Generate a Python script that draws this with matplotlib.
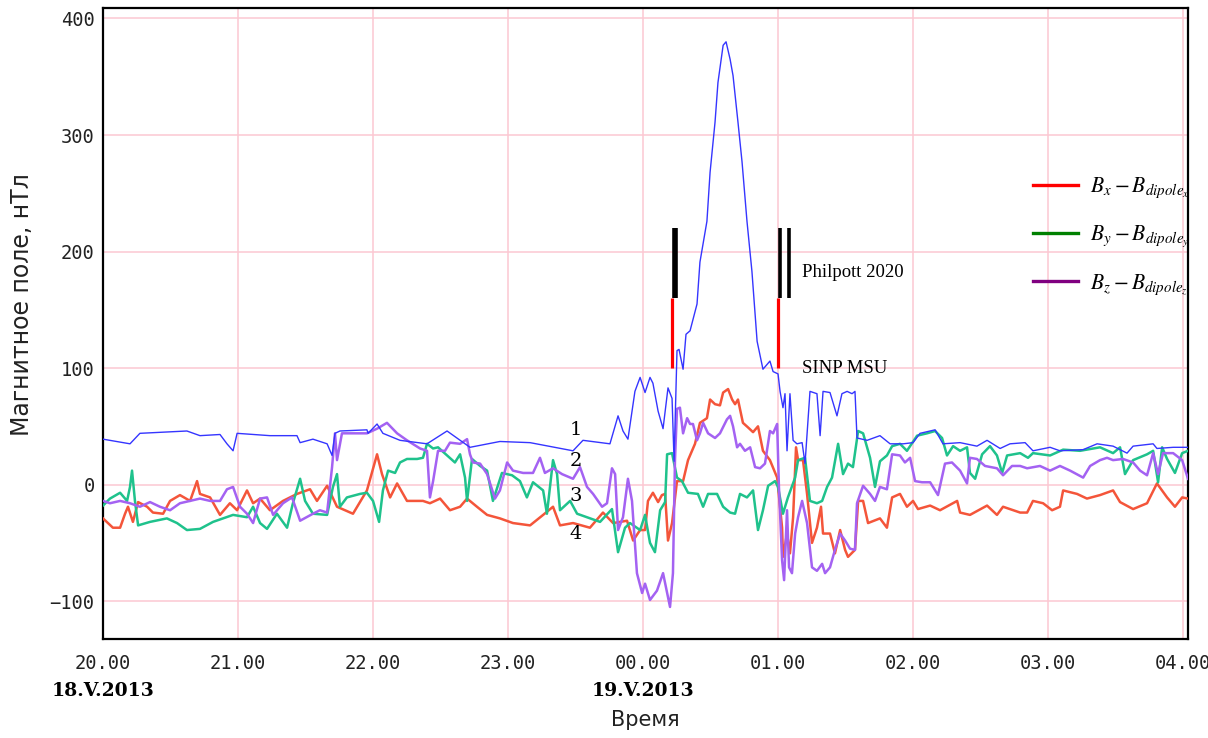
import matplotlib
matplotlib.use("Agg")
import matplotlib.pyplot as plt
from matplotlib.lines import Line2D

# time in minutes after 20:00 (18.V.2013), field in nT
t_btot = [0, 12, 16.4, 37.3, 43.1, 52, 55.1, 57.8, 59.6, 74.2, 86.2, 87.6, 93.3, 99.6, 101.8, 103.1, 105.3,
          117.3, 117.8, 121.8, 124.4, 132, 144, 152.9, 163.1, 176.4, 189.8, 208.9, 213.3, 225.3, 228.9,
          231.1, 233.3, 236.4, 238.7, 240.9, 243.1, 244.4, 246.7, 248.9, 251.1, 252.9, 253.8, 255.1, 256,
          257.8, 259.1, 260.9, 264, 265.3, 268.4, 269.8, 272, 273.3, 275.6, 276.9, 278.7, 280, 282.2, 284,
          286.2, 288.4, 290.7, 293.3, 296.4, 297.8, 300, 300.9, 302.2, 303.1, 304, 305.3, 306.7, 308.4,
          310.7, 312, 314.2, 317.3, 318.7, 320, 323.1, 326.2, 328.4, 330.7, 332.9, 334.2, 335.1, 339.6,
          345.3, 349.8, 355.6, 360, 363.1, 369.8, 373.3, 380.9, 388.4, 392.9, 398.7, 403.1, 409.8, 413.3,
          420.9, 425.3, 435.6, 441.8, 448.9, 455.1, 457.8, 466.7, 468.4, 475.6, 482.2]
btot = [39, 35, 44, 46, 42, 43, 35, 29, 44, 42, 42, 36, 39, 35, 25, 44, 46,
        47, 44, 52, 44, 38, 35, 46, 32, 37, 36, 29, 38, 35, 59,
        46, 39, 80, 92, 79, 92, 87, 63, 48, 83, 74, 20, 115, 116,
        99, 129, 132, 155, 191, 226, 268, 311, 345, 377, 380, 365, 351, 311, 277,
        226, 183, 123, 99, 106, 97, 95, 80, 66, 78, 29, 78, 38, 35,
        36, 18, 80, 78, 42, 80, 79, 59, 78, 80, 78, 80, 40, 38,
        42, 35, 35, 36, 44, 47, 35, 36, 33, 38, 31, 35, 36, 29,
        32, 29, 30, 35, 33, 27, 33, 35, 31, 32, 32]

t_bx = [0, 4.4, 7.6, 9.8, 11.1, 13.3, 15.6, 19.6, 22.2, 26.7,
        29.8, 34.2, 38.7, 41.8, 43.1, 47.6, 52, 56.4, 59.6, 64,
        66.7, 69.8, 74.2, 80, 86.2, 92, 95.1, 99.6, 104, 111.1,
        117.3, 121.8, 124, 127.6, 130.7, 135.1, 142.2, 145.3, 149.8, 154.2,
        158.7, 161.8, 166.2, 170.7, 176.4, 182.2, 189.8, 195.6, 200, 203.1,
        208.9, 216.4, 222.2, 226.7, 232.9, 235.6, 238.7, 240.9, 242.2, 244.4,
        246.7, 248.4, 249.8, 251.1, 252.9, 255.1, 257.8, 260, 263.1, 265.3,
        268.4, 269.8, 272, 274.2, 275.6, 277.8, 279.6, 280.9, 282.2, 284.4,
        286.7, 288.9, 291.1, 293.3, 296.4, 299.6, 301.8, 302.2, 304, 305.3,
        306.7, 308, 308.9, 311.1, 312.9, 315.1, 317.3, 319.1, 320, 323.1,
        325.3, 327.6, 329.8, 331.1, 334.2, 335.6, 337.8, 340, 345.3, 348.4,
        350.7, 354.2, 357.3, 360, 362.2, 367.6, 372, 379.6, 380.9, 385.3,
        392.9, 397.3, 400, 407.6, 410.7, 413.3, 417.8, 421.8, 425.3, 426.7,
        432.9, 437.3, 443.1, 448.9, 452, 457.8, 464, 468.4, 472.9, 476.4,
        479.6, 482.2]
bx = [-29, -37, -37, -25, -19, -32, -15, -19, -24, -25,
      -14, -9, -14, 3, -8, -11, -26, -16, -22, -5,
      -16, -12, -22, -14, -8, -4, -14, -1, -19, -25,
      -5, 26, 9, -11, 1, -14, -14, -16, -12, -22,
      -19, -12, -19, -26, -29, -33, -35, -26, -19, -35,
      -33, -37, -24, -33, -31, -48, -39, -39, -14, -7,
      -15, -9, -8, -48, -33, 3, 3, 21, 35, 53,
      57, 73, 69, 68, 79, 82, 73, 69, 73, 53,
      49, 45, 50, 29, 21, 6, -37, -62, -42, -59,
      -28, 32, 21, 21, -8, -50, -37, -19, -42, -42,
      -59, -39, -56, -62, -56, -14, -14, -33, -29, -37,
      -11, -8, -19, -14, -21, -18, -22, -14, -24, -26,
      -18, -26, -19, -24, -24, -14, -16, -22, -19, -5,
      -8, -12, -9, -5, -15, -21, -16, 1, -11, -19,
      -11, -12]

t_by = [0, 3.1, 7.6, 10.7, 12, 12.9, 14.2, 15.6, 20.9, 28.4,
        32.9, 37.3, 43.1, 48.9, 53.3, 57.8, 64, 66.7, 69.8, 72.9,
        77.3, 81.8, 84.4, 87.6, 89.8, 93.3, 99.6, 102.2, 104, 105.3,
        108.4, 114.2, 117.3, 120, 122.7, 124.4, 126.7, 129.8, 132, 135.1,
        139.6, 142.2, 144, 146.7, 148.9, 152.9, 156.4, 158.7, 160.9, 161.8,
        164, 167.6, 170.7, 173.3, 177.3, 181.8, 185.3, 188.4, 191.1, 195.6,
        197.3, 200, 201.8, 203.1, 207.6, 210.7, 215.1, 220.9, 226.2, 228.9,
        232, 234.2, 238.7, 240.9, 243.1, 245.3, 247.6, 249.8, 250.7, 252.9,
        255.1, 257.3, 260, 264.4, 266.7, 268.9, 272.9, 275.6, 278.7, 280.9,
        283.1, 286.2, 288.9, 291.1, 293.3, 295.6, 298.7, 300, 302.2, 304.4,
        307.6, 308.9, 312, 314.2, 317.3, 319.6, 321.8, 324, 326.7, 328.9,
        331.1, 333.3, 335.6, 337.8, 340.9, 343.1, 345.3, 348.4, 350.7, 354.2,
        357.3, 361.8, 366.2, 369.8, 372.9, 375.1, 377.8, 380.9, 384, 385.3,
        387.6, 390.7, 394.2, 397.3, 399.6, 401.8, 407.6, 411.1, 413.3, 420.9,
        426.7, 434.2, 443.1, 448.9, 452, 454.2, 457.8, 464, 466.7, 468.9,
        470.7, 472.9, 476.4, 479.6, 482.2]
by = [-18, -12, -7, -14, -2, 12, -14, -35, -32, -29,
      -33, -39, -38, -32, -29, -26, -28, -19, -33, -38,
      -25, -37, -16, 5, -14, -25, -26, -2, 9, -19,
      -11, -8, -7, -14, -32, -5, 12, 10, 19, 22,
      22, 23, 35, 31, 32, 25, 19, 26, 6, -14,
      22, 16, 12, -14, 10, 8, 3, -11, 2, -5,
      -25, 21, 9, -22, -14, -25, -28, -32, -21, -58,
      -37, -33, -39, -26, -50, -58, -22, -15, 26, 27,
      6, 3, -7, -8, -19, -8, -8, -19, -24, -25,
      -8, -11, -5, -39, -22, -1, 3, -2, -25, -11,
      6, 21, 23, -14, -16, -14, -2, 6, 35, 9,
      18, 15, 46, 44, 23, -2, 20, 25, 33, 35,
      29, 42, 44, 46, 40, 25, 33, 29, 32, 10,
      5, 26, 33, 25, 10, 25, 27, 23, 27, 25,
      30, 29, 32, 27, 32, 9, 21, 26, 29, 2,
      32, 22, 10, 27, 29]

t_bz = [0, 3.1, 7.6, 12, 16.4, 20.9, 25.3, 29.8, 34.2, 38.7,
        43.1, 47.6, 52, 55.1, 57.8, 60.9, 64, 66.7, 69.8, 72.9,
        75.6, 80, 84, 87.6, 93.3, 96.4, 99.6, 101.8, 103.1, 104,
        106.2, 117.3, 121.8, 126.2, 130.7, 135.1, 140.9, 144, 145.3, 146.7,
        148.9, 152, 154.2, 158.7, 161.8, 163.1, 164.4, 167.6, 170.7, 174.2,
        176.4, 179.6, 182.2, 186.7, 191.1, 194.2, 196.4, 200, 204, 208.9,
        212, 215.1, 217.8, 221.8, 224, 226.2, 227.6, 228.9, 231.1, 233.3,
        235.1, 237.3, 239.6, 240.9, 243.1, 246.2, 248.9, 250.7, 252, 253.3,
        254.2, 255.1, 256.4, 257.8, 259.6, 260.9, 262.2, 264, 265.3, 266.7,
        268.9, 272, 274.2, 277.3, 278.7, 280, 281.8, 283.1, 285.3, 287.6,
        289.8, 292, 294.2, 296.4, 297.8, 299.6, 300.4, 301.8, 302.7, 304,
        304.9, 306.2, 307.6, 308.9, 310.7, 312.9, 315.1, 317.3, 319.6, 320.9,
        323.1, 325.3, 327.6, 329.8, 332, 334.2, 335.1, 337.8, 340.9, 343.1,
        345.3, 348.4, 350.7, 354.2, 356.4, 358.7, 360.9, 364, 367.6, 371.1,
        374.2, 377.3, 380.9, 384, 385.3, 388.4, 392, 397.3, 400, 404,
        407.6, 410.7, 416.4, 420.9, 425.3, 429.8, 435.6, 438.7, 443.1, 446.2,
        448.9, 453.3, 457.8, 460.9, 464, 466.7, 468.9, 471.1, 475.6, 479.6,
        482.2]
bz = [-14, -16, -14, -16, -19, -15, -19, -22, -16, -14,
      -12, -14, -14, -4, -2, -19, -25, -33, -12, -11,
      -26, -16, -11, -31, -25, -22, -24, 15, 44, 21,
      44, 44, 48, 53, 44, 38, 31, 29, -11, 3,
      29, 29, 36, 35, 39, 26, 19, 18, 9, -12,
      -5, 19, 12, 10, 10, 23, 10, 14, 9, 5,
      15, -2, -8, -19, -16, 14, 9, -39, -28, 5,
      -14, -76, -93, -85, -99, -91, -76, -93, -105, -76,
      21, 65, 66, 44, 57, 52, 52, 38, 44, 53,
      44, 40, 44, 56, 59, 50, 32, 35, 29, 32,
      15, 14, 18, 46, 44, 52, -2, -65, -82, -22,
      -71, -76, -42, -28, -14, -33, -71, -74, -68, -76,
      -71, -56, -42, -48, -55, -56, -16, -1, -8, -14,
      -2, -4, 26, 25, 19, 23, 3, 2, 2, -9,
      18, 19, 12, 1, 23, 22, 16, 14, 8, 16,
      16, 14, 16, 12, 16, 12, 6, 16, 21, 23,
      21, 22, 19, 12, 8, 27, 9, 27, 27, 21,
      5]

# magnetopause crossings (minutes after 20:00)
sinp_times = [252.9, 300.0]
philpott_times = [253.8, 254.7, 300.9, 304.9]

tick_minutes = [0, 60, 120, 180, 240, 300, 360, 420, 480]
tick_labels = ["20.00", "21.00", "22.00", "23.00", "00.00", "01.00", "02.00", "03.00", "04.00"]
date_minutes = [0, 240]
date_labels = ["18.V.2013", "19.V.2013"]

legend_labels = [r"$B_x - B_{dipole_x}$", r"$B_y - B_{dipole_y}$", r"$B_z - B_{dipole_z}$"]
legend_colors = ["#ff0000", "#008000", "#800080"]

plt.rcParams["mathtext.fontset"] = "stix"

fig = plt.figure(figsize=(12.08, 7.38), dpi=100)
ax = fig.add_axes([103 / 1208, 1 - 639 / 738, 1085 / 1208, 631 / 738])

ax.plot(t_bx, bx, color="#f4553a", lw=1.8, zorder=3)
ax.plot(t_by, by, color="#1fc28c", lw=1.8, zorder=3)
ax.plot(t_bz, bz, color="#a462f2", lw=1.8, zorder=3)
ax.plot(t_btot, btot, color="#3535ff", lw=1.0, zorder=4)

ax.vlines(sinp_times, 100, 160, color="#ff0000", lw=2.3, zorder=5)
ax.vlines(philpott_times, 160, 220, color="black", lw=2.6, zorder=5)
ax.text(310.5, 182, "Philpott 2020", fontsize=13.5, family="Liberation Serif", va="center")
ax.text(310.5, 100, "SINP MSU", fontsize=13.5, family="Liberation Serif", va="center")

# curve numbers
for num, yv in zip(["1", "2", "3", "4"], [47, 20, -10, -42]):
    ax.text(210, yv, num, fontsize=14, family="DejaVu Serif", ha="center", va="center")

ax.set_xlim(0, 482.2)
ax.set_ylim(-132.5, 409)
ax.set_xticks(tick_minutes)
ax.set_xticklabels(tick_labels)
ax.set_yticks([-100, 0, 100, 200, 300, 400])
ax.tick_params(axis="both", length=0, labelsize=13.5, labelcolor="#222222")
ax.tick_params(axis="x", pad=11)
ax.tick_params(axis="y", pad=6)
for lab in ax.get_xticklabels() + ax.get_yticklabels():
    lab.set_family("DejaVu Sans Mono")

ax.grid(True, color="#fcc8d2", lw=1.1)
ax.set_axisbelow(True)
for sp in ax.spines.values():
    sp.set_linewidth(1.6)
    sp.set_color("black")

for tm, dl in zip(date_minutes, date_labels):
    ax.text(tm, -0.083, dl, transform=ax.get_xaxis_transform(), ha="center", va="center",
            fontsize=13.5, fontweight="bold", family="DejaVu Serif")

ax.set_ylabel("Магнитное поле, нТл", fontsize=17, color="#222222")
ax.yaxis.set_label_coords(-0.064, 0.53)
ax.set_xlabel("Время", fontsize=15, color="#222222")
ax.xaxis.set_label_coords(0.5, -0.112)

handles = [Line2D([], [], color=c, lw=2.4) for c in legend_colors]
leg = ax.legend(handles, legend_labels, loc="upper left", bbox_to_anchor=(1033 / 1208, 1 - 176 / 738),
                bbox_transform=fig.transFigure, frameon=False, fontsize=15.5, handlelength=2.1,
                handletextpad=0.55, labelspacing=1.07, borderpad=0, borderaxespad=0)
for txt in leg.get_texts():
    txt.set_clip_box(ax.bbox)
    txt.set_clip_on(True)

fig.savefig("out.png", dpi=100)
